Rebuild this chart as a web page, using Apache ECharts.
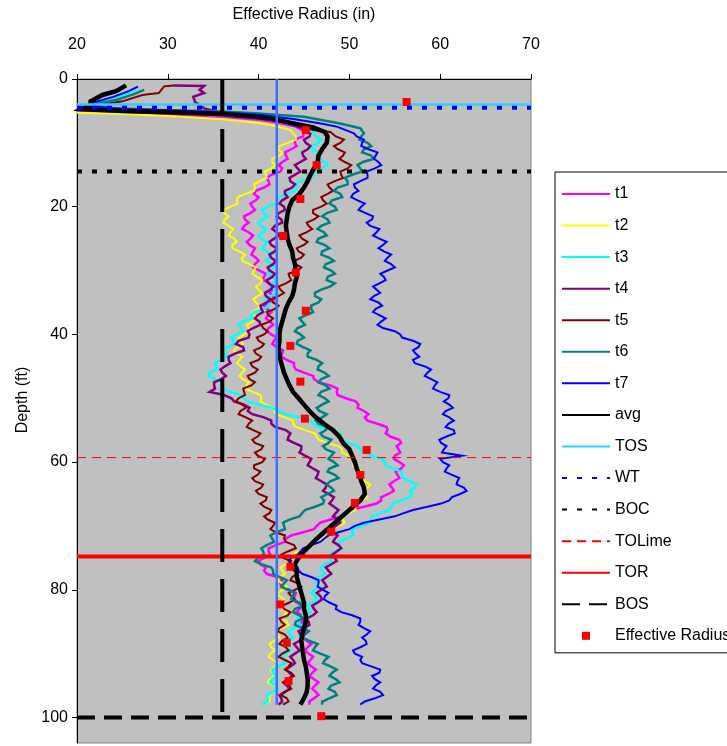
<!DOCTYPE html>
<html>
<head>
<meta charset="utf-8">
<script src="https://cdn.jsdelivr.net/npm/echarts@6/dist/echarts.min.js"></script>
<style>
  html, body { margin: 0; padding: 0; background: #ffffff; }
  #chart { width: 727px; height: 746px; }
</style>
</head>
<body>
<div id="chart"></div>
<script>
// Depth grids (ft) shared by the radius profiles below the casing sweep
const depthFt = [
  9,10,11,12,13,14,15,16,17,18,19,20,21,22,23,24,25,26,27,28,
  29,30,31,32,33,34,35,36,37,38,39,40,41,42,43,44,45,46,47,48,
  49,50,51,52,53,54,55,56,57,58,59,60,61,62,63,64,65,66,67,68,
  69,70,71,72,73,74,75,76,77,78,79,80,81,82,83,84,85,86,87,88,
  89,90,91,92,93,94,95,96,97,98
];
const depthHalfFt = [
  9.5,10.5,11.5,12.5,13.5,14.5,15.5,16.5,17.5,18.5,19.5,20.5,21.5,22.5,23.5,24.5,25.5,26.5,27.5,28.5,
  29.5,30.5,31.5,32.5,33.5,34.5,35.5,36.5,37.5,38.5,39.5,40.5,41.5,42.5,43.5,44.5,45.5,46.5,47.5,48.5,
  49.5,50.5,51.5,52.5,53.5,54.5,55.5,56.5,57.5,58.5,59.5,60.5,61.5,62.5,63.5,64.5,65.5,66.5,67.5,68.5,
  69.5,70.5,71.5,72.5,73.5,74.5,75.5,76.5,77.5,78.5,79.5,80.5,81.5,82.5,83.5,84.5,85.5,86.5,87.5,88.5,
  89.5,90.5,91.5,92.5,93.5,94.5,95.5,96.5,97.5
];

// Near-surface portion of each profile: [radius (in), depth (ft)]
const t1Top  = [[20,5.0],[25,5.2],[30,5.5],[36,5.9],[40,6.4],[42,6.8],[44,7.4],[45,8.2]];
const t2Top  = [[20,5.3],[25,5.5],[30,5.8],[36,6.3],[40,6.9],[42,7.4],[43.5,8.0]];
const t3Top  = [[26.5,1.5],[25.5,2.3],[24,3.3],[22,3.8],[21,4.5],[25,4.9],[30,5.1],[36,5.4],[40,5.9],[43,6.6],[45,7.5],[46,8.3]];
const t4Top  = [[30.6,1.0],[34,1.1],[33.5,1.7],[34,2.2],[32.8,2.8],[33.0,3.6],[34,4.6],[36,5.3],[40,6.0],[43,6.8],[45,7.8],[45.7,8.6]];
const t5Top  = [[30.6,1.0],[29.6,1.15],[29,2.2],[27.2,2.5],[25,3.5],[22,4.2],[25,4.9],[30,5.1],[36,5.5],[40,6.0],[44,7.0],[46,8.0],[47.9,8.3]];
const t6Top  = [[27.4,1.7],[26.2,2.4],[24.5,3.2],[22.5,3.8],[21,4.4],[30,4.9],[36,5.1],[40,5.4],[45,5.9],[48.7,6.9],[51.2,7.7],[51.6,8.5]];
const t7Top  = [[26.7,1.2],[25.7,1.9],[24,2.8],[22,3.6],[21,4.2],[25,4.7],[30,4.9],[36,5.2],[40,5.6],[44,6.3],[47,7.0],[48.7,7.5],[50.5,8.5]];
const avgTop = [[25.4,1.0],[24.3,1.9],[22.8,2.5],[21.5,3.5],[21.5,4.0],[20.5,4.7],[25,5.0],[30,5.2],[36,5.5],[40,6.0],[42,6.4],[44,7.0],[46,7.6],[47.3,8.3]];

// Effective radius (in) at each depth of depthFt
const t1 = [
  44.9,44.0,43.6,43.0,42.6,42.6,41.4,41.1,40.6,39.5,39.7,39.3,39.1,38.5,38.4,38.9,39.1,39.0,39.4,39.7,
  39.6,40.1,40.6,41.2,41.5,41.6,41.1,40.9,41.0,41.3,41.1,41.4,41.7,42.0,42.6,43.1,43.9,45.0,46.1,47.9,
  48.6,49.6,51.0,51.6,51.7,53.1,54.2,54.5,55.7,55.4,55.0,55.5,55.7,55.3,54.9,54.7,54.3,53.5,51.6,49.6,
  47.9,46.4,44.9,43.0,41.9,41.1,40.6,40.2,40.6,42.0,42.4,43.4,44.0,44.2,44.5,44.7,44.8,45.0,45.1,45.3,
  45.4,45.5,45.7,45.8,45.9,46.1,46.2,46.3,46.1,45.6
];
const t2 = [
  44.1,43.2,42.1,42.3,41.5,41.4,40.8,40.1,39.6,38.6,37.6,36.9,36.2,36.3,36.7,36.9,37.3,37.1,37.9,38.2,
  39.0,39.5,39.8,40.2,40.0,39.9,39.7,39.9,39.5,39.3,38.9,38.4,38.0,37.7,37.6,37.9,38.0,38.2,38.3,38.7,
  39.3,40.3,40.8,41.7,42.9,43.8,45.1,46.4,47.5,49.2,49.9,50.6,50.9,51.3,51.7,52.0,51.8,51.3,50.6,49.9,
  49.3,48.8,47.9,46.9,45.8,44.4,43.6,43.0,42.6,42.4,42.6,42.7,42.3,42.4,42.6,42.8,43.1,42.6,42.1,41.7,
  41.4,41.3,41.6,41.8,41.5,41.2,41.6,41.7,41.2,40.5
];
const t3 = [
  46.3,46.6,45.9,46.4,47.4,46.9,46.1,44.7,44.2,43.0,42.1,41.0,40.6,40.5,40.2,40.5,40.2,40.7,40.9,41.1,
  41.4,41.2,41.6,41.5,41.8,41.3,41.0,40.6,39.2,38.3,38.1,37.6,37.2,36.6,36.3,35.8,35.3,34.6,35.2,35.9,
  36.9,38.4,40.0,42.2,44.5,46.0,48.2,49.0,49.8,51.2,52.5,53.9,54.8,55.8,56.7,57.2,56.9,55.7,54.6,53.4,
  52.4,51.3,50.3,49.6,48.9,48.4,47.9,47.3,47.0,46.7,46.5,46.1,46.2,45.9,45.5,45.0,44.4,43.9,43.5,43.3,
  43.1,43.0,42.8,42.2,41.6,41.5,41.8,41.6,41.0,40.4
];
const t4 = [
  45.6,45.2,45.4,44.9,44.6,44.3,44.0,43.5,43.7,42.9,42.6,42.8,42.2,42.5,41.8,42.0,41.7,41.4,41.8,41.4,
  41.6,41.2,41.5,41.1,41.3,40.8,40.9,40.3,39.9,40.1,39.4,39.0,37.8,38.3,37.4,36.7,36.3,36.0,35.9,35.1,
  34.6,37.0,38.4,38.8,40.6,41.4,43.0,43.3,43.9,44.7,45.1,45.6,46.0,46.5,46.9,47.4,47.7,48.1,48.3,48.5,
  48.8,48.5,48.2,48.4,48.8,48.6,48.4,48.0,47.7,47.5,47.3,46.9,46.8,46.5,46.1,46.0,45.5,45.0,44.6,44.5,
  44.2,44.0,43.8,43.5,43.4,43.2,43.1,42.9,42.5,42.2
];
const t5 = [
  48.5,49.0,48.7,49.3,49.5,49.8,49.1,48.4,47.8,47.6,47.1,46.9,46.0,46.1,45.5,45.3,44.8,45.0,44.4,44.7,
  44.1,44.3,43.4,43.0,42.4,42.2,41.6,41.8,41.1,41.2,40.5,40.6,40.0,40.3,39.7,40.0,39.3,39.6,39.0,39.2,
  38.4,37.8,38.2,38.0,38.6,38.9,39.4,39.9,39.6,40.3,39.9,40.4,39.5,39.9,39.6,40.3,40.0,40.8,40.6,41.2,
  41.0,41.6,41.9,42.8,43.9,43.2,42.7,43.4,43.9,43.7,44.3,44.0,43.6,43.4,42.8,43.2,42.5,42.3,42.9,42.6,
  43.0,42.6,42.9,43.3,43.6,43.2,43.4,42.9,43.1,42.7
];
const t6 = [
  51.3,52.0,51.6,52.4,51.5,51.2,50.3,49.8,48.7,49.0,48.1,48.4,47.5,47.6,46.9,47.2,46.6,47.3,47.0,47.8,
  47.4,48.0,47.6,48.4,46.9,46.2,46.6,45.8,45.2,44.8,44.3,44.6,44.3,44.9,45.4,46.4,46.6,47.3,46.9,47.4,
  46.9,47.3,47.0,46.7,47.0,46.6,47.4,47.1,47.7,47.4,48.0,48.3,47.8,48.4,47.9,48.0,47.6,47.2,46.2,44.8,
  43.4,42.8,41.9,41.5,40.9,40.5,39.9,40.3,41.6,42.3,42.8,43.2,43.7,44.5,44.0,44.5,44.1,44.8,45.0,45.6,
  46.2,46.8,47.3,47.9,48.1,48.5,48.0,48.4,47.8,47.0
];
const t7 = [
  50.8,51.4,52.1,52.9,53.2,52.8,52.0,51.2,50.6,50.4,50.9,51.3,51.8,52.5,52.3,53.0,53.3,53.7,53.8,54.2,
  54.6,54.2,53.8,53.3,53.0,52.7,53.2,52.9,53.3,53.5,53.7,55.6,57.0,57.6,57.3,57.0,58.3,58.6,59.0,59.4,
  60.0,60.9,61.0,60.6,61.0,60.9,61.5,60.7,60.1,60.4,62.4,60.3,60.7,61.3,61.9,62.6,62.2,61.0,58.6,56.0,
  53.3,50.6,48.8,47.2,45.8,44.6,43.6,43.6,44.4,45.8,46.6,47.1,47.3,47.8,48.5,50.3,51.2,51.6,51.9,51.8,
  51.2,50.6,51.2,52.4,53.3,52.8,52.9,53.4,52.8,51.2
];
const avg = [
  47.6,47.5,47.0,46.6,46.5,46.1,45.7,45.4,45.0,44.5,43.7,43.4,43.2,43.1,43.0,43.1,43.2,43.4,43.7,43.8,
  44.0,44.1,44.2,44.0,43.9,43.7,43.3,43.0,42.8,42.6,42.4,42.3,42.3,42.2,42.3,42.4,42.6,42.8,43.1,43.4,
  43.8,44.4,45.0,45.6,46.3,47.2,48.2,48.9,49.3,50.0,50.3,50.6,50.8,51.1,51.3,51.6,51.7,51.2,50.4,49.6,
  48.8,48.0,47.2,46.4,45.7,45.0,44.4,44.0,44.2,44.2,44.4,44.6,44.8,45.0,45.0,45.2,45.2,45.0,44.8,44.7,
  44.8,44.9,45.0,45.2,45.3,45.4,45.4,45.3,45.0,44.6
];

// Effective radius (in) at each depth of depthHalfFt
const t1Half = [
  44.0,44.2,42.9,43.2,42.2,42.4,40.9,41.2,39.7,40.0,39.1,39.6,38.4,38.9,38.2,39.4,38.7,39.6,39.2,40.0,
  39.4,40.8,40.5,41.8,41.2,41.8,40.6,41.4,40.8,41.6,40.9,42.0,41.5,42.7,42.5,43.9,44.1,46.0,46.6,48.7,
  48.7,50.7,50.9,52.1,52.0,54.1,54.0,55.5,55.2,55.6,54.9,56.0,55.1,55.5,54.4,54.9,53.5,53.0,50.2,49.2,
  46.8,46.1,43.6,42.9,41.1,41.3,40.0,40.8,40.9,42.6,42.5,44.1,43.7,44.8,44.2,45.2,44.5,45.5,44.8,45.8,
  45.1,46.0,45.4,46.3,45.6,46.6,45.9,46.6,45.6
];
const t2Half = [
  44.1,42.3,42.6,41.5,41.9,40.7,40.9,39.5,39.5,37.7,37.7,36.2,36.7,36.1,37.2,36.7,37.6,37.1,38.5,38.2,
  39.7,39.3,40.4,39.7,40.4,39.4,40.2,39.3,39.8,38.7,39.1,37.8,38.3,37.3,38.2,37.6,38.5,37.9,38.9,38.6,
  40.2,40.2,41.7,41.9,43.8,44.1,46.2,46.6,48.8,49.2,50.7,50.4,51.5,51.1,52.3,51.5,52.0,50.6,50.7,49.2,
  49.5,48.0,47.8,46.0,45.5,43.6,43.7,42.4,42.9,42.1,43.1,42.1,42.8,42.1,43.1,42.6,43.3,42.0,42.3,41.2,
  41.8,41.1,42.1,41.3,41.8,41.0,42.1,41.1,41.2
];
const t3Half = [
  46.9,45.9,46.6,46.5,47.6,46.1,45.8,44.0,44.0,42.2,42.0,40.4,41.0,40.0,40.8,40.0,40.9,40.4,41.4,40.9,
  41.7,41.0,42.0,41.3,42.0,40.8,41.2,39.5,39.2,37.8,38.3,37.0,37.3,36.1,36.5,35.2,35.4,34.5,36.0,36.0,
  38.1,38.8,41.5,43.0,45.7,46.7,49.0,49.0,50.9,51.5,53.6,54.0,55.7,55.9,57.4,56.7,56.7,54.8,54.4,52.5,
  52.3,50.4,50.4,48.9,49.1,47.8,48.0,46.8,47.3,46.2,46.7,45.8,46.5,45.3,45.7,44.3,44.6,43.3,43.8,42.8,
  43.5,42.5,42.9,41.5,42.0,41.3,42.1,40.9,41.0
];
const t4Half = [
  45.0,45.7,44.8,45.2,44.0,44.6,43.4,44.0,42.9,43.2,42.3,42.9,42.0,42.6,41.5,42.3,41.2,42.0,41.2,41.9,
  41.0,41.8,40.9,41.6,40.7,41.3,40.2,40.5,39.6,40.2,38.8,38.9,37.5,38.4,36.7,36.9,35.8,36.4,35.1,35.2,
  36.2,37.3,39.0,39.3,41.4,41.8,43.5,43.2,44.7,44.5,45.8,45.4,46.6,46.3,47.5,47.1,48.3,47.8,48.8,48.2,
  49.0,47.9,48.7,48.2,49.1,48.1,48.6,47.4,48.0,47.0,47.5,46.4,47.0,45.9,46.4,45.3,45.6,44.4,44.9,43.9,
  44.5,43.5,44.0,43.0,43.7,42.7,43.4,42.3,42.6
];
const t5Half = [
  49.4,48.3,49.5,48.9,50.2,49.0,49.3,47.6,48.2,46.9,47.5,46.0,46.6,45.3,45.9,44.5,45.4,44.2,45.0,43.9,
  44.7,43.3,43.6,42.2,42.8,41.4,42.2,40.9,41.6,40.3,41.0,39.8,40.6,39.5,40.3,39.1,39.9,38.8,39.6,38.3,
  38.5,37.5,38.6,37.8,39.3,38.7,40.2,39.3,40.5,39.6,40.7,39.5,40.2,39.3,40.5,39.7,40.9,40.2,41.4,40.6,
  41.8,41.3,42.9,43.0,44.1,42.5,43.6,43.2,44.3,43.5,44.7,43.3,44.0,42.6,43.5,42.3,42.9,42.1,43.2,42.3,
  43.3,42.2,43.6,42.9,43.9,42.8,43.6,42.5,43.3
];
const t6Half = [
  51.1,52.4,51.4,52.7,50.9,51.4,49.5,49.8,48.3,49.2,47.8,48.6,47.0,47.8,46.5,47.5,46.4,47.8,46.9,48.3,
  47.2,48.4,47.5,47.9,46.2,46.9,45.8,46.0,44.5,45.1,44.0,45.0,44.2,45.7,45.4,47.0,46.5,47.7,46.6,47.8,
  46.6,47.7,46.4,47.5,46.3,47.6,46.8,48.0,47.1,48.3,47.7,48.7,47.6,48.8,47.5,48.3,46.9,47.1,45.1,44.5,
  42.7,42.9,41.3,41.7,40.3,40.6,39.6,41.4,41.6,43.1,42.5,44.0,43.6,44.9,43.8,44.9,44.0,45.5,44.8,46.5,
  46.0,47.7,47.1,48.6,47.8,48.9,47.7,48.6,47.0
];
const t7Half = [
  51.6,51.3,53.1,52.7,53.5,51.9,52.0,50.5,51.0,50.2,51.7,51.0,52.6,51.9,53.3,52.6,54.1,53.2,54.6,53.9,
  55.0,53.4,54.0,52.6,53.4,52.3,53.6,52.6,54.0,53.1,55.0,55.8,57.8,57.0,57.7,57.2,59.0,58.3,59.7,59.2,
  61.0,60.4,61.4,60.3,61.5,60.6,61.6,59.9,60.7,60.2,60.0,61.0,60.5,62.1,61.8,62.9,61.3,60.1,57.0,55.0,
  51.6,50.0,47.7,46.8,44.9,44.3,43.3,44.3,44.8,46.6,46.5,47.7,47.2,48.6,49.1,51.2,51.0,52.3,51.4,51.9,
  50.4,51.4,51.4,53.4,52.5,53.4,52.6,53.7,51.7
];

// Measured effective radius points
const effRadius = [56.3,45.2,46.4,44.6,42.7,44.1,45.2,43.5,44.6,45.1,51.9,51.2,50.6,48.0,43.5,42.4,43.1,43.3,46.9];
const effDepth  = [3.6,8.0,13.5,18.8,24.6,30.3,36.3,41.8,47.4,53.2,58.1,62.0,66.4,70.9,76.4,82.3,88.3,94.3,99.8];

// Horizontal marker depths (ft)
const tosDepth = 4.0;
const wtDepth = 4.5;
const bocDepth = 14.5;
const toLimeDepth = 59.3;
const torDepth = 74.8;
const bosDepth = 100;

// Vertical reference radii (in) and their depth spans (ft)
const bosRadius = 36;
const bosSpan = [0, 100];
const refRadius = 42;
const refSpan = [0, 98];

// Axis ranges and tick labels
const radiusRange = [20, 70];
const depthRange = [0, 104];
const radiusTicks = [20, 30, 40, 50, 60, 70];
const depthTicks = [0, 20, 40, 60, 80, 100];

const legendNames = ['t1','t2','t3','t4','t5','t6','t7','avg','TOS','WT','BOC','TOLime','TOR','BOS','Effective Radius'];

// Surface segment, then whole-foot readings interleaved with half-foot readings
function profile(top, radii, half) {
  const pts = top.slice();
  radii.forEach((r, i) => {
    pts.push([r, depthFt[i]]);
    if (half && i < half.length) pts.push([half[i], depthHalfFt[i]]);
  });
  return pts;
}
function horizontal(depth) {
  return [[radiusRange[0], depth], [radiusRange[1], depth]];
}
function vertical(radius, span) {
  return [[radius, span[0]], [radius, span[1]]];
}
function lineSeries(name, data, color, width, type, extra) {
  return Object.assign({
    name: name,
    type: 'line',
    data: data,
    symbol: 'none',
    silent: true,
    animation: false,
    lineStyle: { color: color, width: width, type: type || 'solid', cap: 'butt', join: 'miter' },
    itemStyle: { color: color }
  }, extra || {});
}

const font = 'Liberation Sans, Arial, sans-serif';
const chart = echarts.init(document.getElementById('chart'), null, { renderer: 'canvas' });

// Legend entries: plain lines except the marker entry, which shows only its square
const legendData = legendNames.map(n => n === 'Effective Radius'
  ? { name: n, lineStyle: { color: 'rgba(0,0,0,0)', width: 0 } }
  : { name: n, itemStyle: { color: 'rgba(0,0,0,0)', opacity: 0, borderWidth: 0 } });

chart.setOption({
  backgroundColor: '#ffffff',
  animation: false,
  grid: {
    left: 77, top: 79, width: 454, height: 664,
    show: true, backgroundColor: '#c0c0c0', borderColor: '#808080', borderWidth: 1
  },
  xAxis: {
    type: 'value',
    position: 'top',
    min: radiusRange[0], max: radiusRange[1], interval: 10,
    name: 'Effective Radius (in)',
    nameLocation: 'middle',
    nameGap: 56,
    nameTextStyle: { fontFamily: font, fontSize: 16, color: '#000' },
    axisLine: { show: true, onZero: false, lineStyle: { color: '#000', width: 1 } },
    axisTick: { show: true, length: 5, lineStyle: { color: '#000' } },
    axisLabel: {
      margin: 26, fontFamily: font, fontSize: 16, color: '#000',
      formatter: v => radiusTicks.indexOf(v) >= 0 ? String(v) : ''
    },
    splitLine: { show: false }
  },
  yAxis: {
    type: 'value',
    inverse: true,
    min: depthRange[0], max: depthRange[1], interval: 20,
    name: 'Depth (ft)',
    nameLocation: 'middle',
    nameGap: 46,
    nameRotate: 90,
    nameTextStyle: { fontFamily: font, fontSize: 16, color: '#000', padding: [0, 0, 0, 22] },
    axisLine: { show: true, onZero: false, lineStyle: { color: '#000', width: 1 } },
    axisTick: { show: true, length: 5, customValues: depthTicks, lineStyle: { color: '#000' } },
    axisLabel: {
      margin: 9, fontFamily: font, fontSize: 16, color: '#000',
      customValues: depthTicks,
      formatter: v => depthTicks.indexOf(v) >= 0 ? String(v) : ''
    },
    splitLine: { show: false }
  },
  legend: {
    orient: 'vertical',
    left: 555, top: 172,
    padding: [14, 40, 9, 6],
    itemWidth: 48, itemHeight: 10, itemGap: 15.56,
    backgroundColor: '#ffffff',
    borderColor: '#000', borderWidth: 1, borderRadius: 0,
    selectedMode: false,
    textStyle: { fontFamily: font, fontSize: 16, color: '#000', lineHeight: 14 },
    data: legendData
  },
  series: [
    lineSeries('t1', profile(t1Top, t1, t1Half), '#ff00ff', 2.5),
    lineSeries('t2', profile(t2Top, t2, t2Half), '#ffff00', 2),
    lineSeries('t3', profile(t3Top, t3, t3Half), '#00ffff', 2.5),
    lineSeries('t4', profile(t4Top, t4, t4Half), '#800080', 2.5),
    lineSeries('t5', profile(t5Top, t5, t5Half), '#800000', 2),
    lineSeries('t6', profile(t6Top, t6, t6Half), '#008080', 2.5),
    lineSeries('t7', profile(t7Top, t7, t7Half), '#0000ff', 2),
    lineSeries('avg', profile(avgTop, avg), '#000000', 4.5),
    lineSeries('TOS', horizontal(tosDepth), '#33ccff', 2.5),
    lineSeries('WT', horizontal(wtDepth), '#0000ff', 4, [5, 10]),
    lineSeries('BOC', horizontal(bocDepth), '#000000', 4, [5, 10]),
    lineSeries('TOLime', horizontal(toLimeDepth), '#ff0000', 1, [9, 6]),
    lineSeries('TOR', horizontal(torDepth), '#ff0000', 4),
    lineSeries('BOS', horizontal(bosDepth), '#000000', 4, [18, 9]),
    lineSeries('BOS', vertical(bosRadius, bosSpan), '#000000', 4, [33, 17]),
    lineSeries('ref', vertical(refRadius, refSpan), '#3f6fff', 2.5),
    lineSeries('Effective Radius', effRadius.map((r, i) => [r, effDepth[i]]), '#ff0000', 0, 'solid', {
      symbol: 'rect', symbolSize: 8, showSymbol: true, showAllSymbol: true,
      lineStyle: { width: 0, opacity: 0 },
      itemStyle: { color: '#ff0000' },
      z: 5
    })
  ]
});
</script>
</body>
</html>
